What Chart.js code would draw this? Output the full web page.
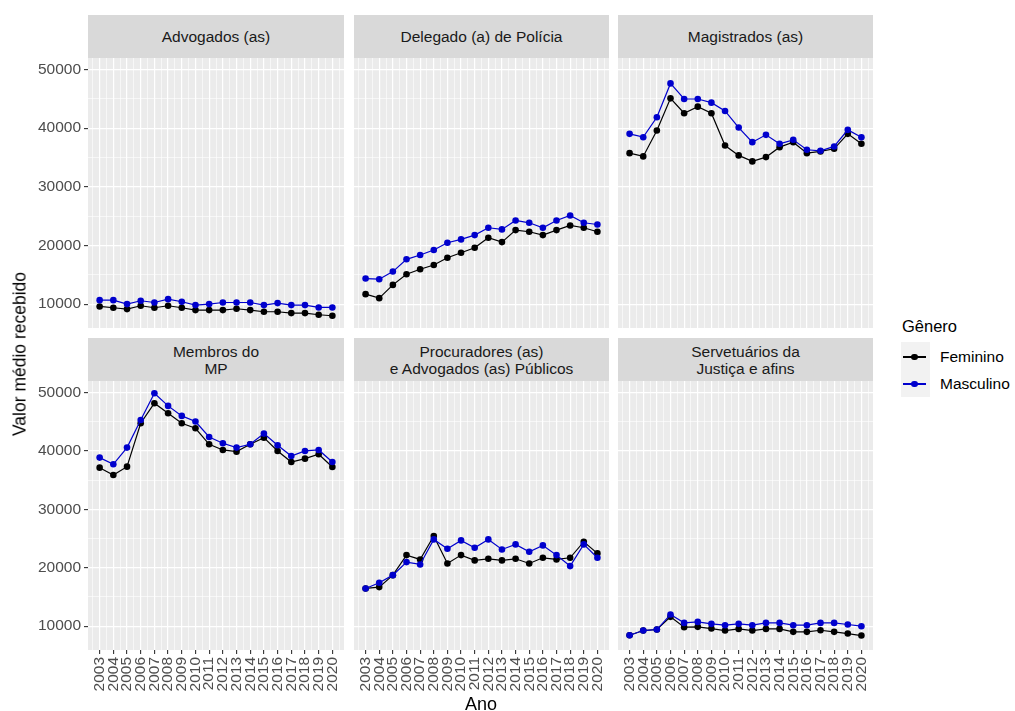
<!DOCTYPE html>
<html><head><meta charset="utf-8">
<script src="https://cdn.jsdelivr.net/npm/chart.js@4.4.1/dist/chart.umd.min.js"></script>
<style>
body{margin:0;background:#fff;width:1015px;height:711px;position:relative;overflow:hidden;font-family:'Liberation Sans',Arial,sans-serif;}
.strip{position:absolute;background:#D9D9D9;color:#1A1A1A;font-size:15.5px;display:flex;align-items:center;justify-content:center;text-align:center;line-height:17px;white-space:pre;}
canvas{position:absolute;}
.txt{position:absolute;white-space:nowrap;}
</style></head><body>
<script>
// ---- data ----
const years = [2003,2004,2005,2006,2007,2008,2009,2010,2011,2012,2013,2014,2015,2016,2017,2018,2019,2020];
const categories = ['Advogados (as)', 'Delegado (a) de Polícia', 'Magistrados (as)', 'Membros do\nMP', 'Procuradores (as)\ne Advogados (as) Públicos', 'Servetuários da\nJustiça e afins'];
const seriesNames = ['Feminino', 'Masculino'];
const advogadosF = [9600,9380,9150,9720,9380,9720,9380,8980,8980,8980,9210,8980,8700,8700,8470,8470,8190,8020];
const advogadosM = [10680,10680,10000,10570,10280,10850,10400,9830,10000,10280,10280,10280,9830,10170,9830,9830,9430,9430];
const delegadoF = [11700,11020,13280,15090,15940,16680,17920,18770,19620,21320,20580,22620,22340,21770,22620,23410,23020,22340];
const delegadoM = [14360,14250,15550,17640,18380,19230,20470,21040,21770,23020,22740,24260,23870,23020,24260,25110,23870,23580];
const magistradosF = [35750,35190,39600,45090,42550,43680,42550,37050,35360,34340,35070,36770,37620,35750,36040,36490,39040,37340];
const magistradosM = [39040,38470,41870,47640,44980,44980,44360,42940,40110,37620,38870,37340,38020,36320,36150,36890,39720,38470];
const membrosF = [37140,35880,37310,44740,48170,46460,44740,43880,41140,40170,39880,41140,42280,40000,38110,38680,39430,37260];
const membrosM = [38860,37710,40570,45310,49880,47710,46000,45030,42400,41310,40570,41140,42970,40970,39140,40000,40170,38110];
const procuradoresF = [16460,16690,18740,22170,21430,25430,20740,22170,21260,21540,21260,21540,20740,21710,21430,21710,24460,22460];
const procuradoresM = [16460,17430,18740,20970,20570,24860,23260,24690,23430,24860,23140,24000,22740,23830,22170,20290,24000,21710];
const servF = [8460,9260,9430,11600,9830,9890,9600,9260,9540,9260,9540,9540,9030,9030,9310,9030,8740,8400];
const servM = [8460,9260,9430,12000,10570,10740,10400,10170,10400,10170,10570,10570,10170,10170,10570,10570,10290,10000];
const yTickLabels = [10000,20000,30000,40000,50000];
const yMinorTicks = [15000,25000,35000,45000];
const axisTitleY = 'Valor médio recebido';
const axisTitleX = 'Ano';
const legendTitle = 'Gênero';

const femSeries = [advogadosF, delegadoF, magistradosF, membrosF, procuradoresF, servF];
const mascSeries = [advogadosM, delegadoM, magistradosM, membrosM, procuradoresM, servM];

// ---- layout / style ----
const FONT = "'Liberation Sans', Arial, sans-serif";
const BLUE = '#0000CD', BLACK = '#000000';
const cols = [{left:88,w:256},{left:354,w:255},{left:618,w:255}];
const rows = [{top:58,h:270,stripTop:15},{top:381,h:269,stripTop:338}];
const AXIS_W = 88, X_AXIS_H = 61;

const allVals = femSeries.concat(mascSeries).flat();
const vMin = Math.min(...allVals), vMax = Math.max(...allVals);
const yPad = (vMax - vMin) * 0.05;
const yLo = vMin - yPad, yHi = vMax + yPad;
const xPad = (years[years.length-1] - years[0]) * 0.05;
const xLo = years[0] - xPad, xHi = years[years.length-1] + xPad;
const xMinor = [years[0]-0.5].concat(years.map(y => y + 0.5));
const xAll = years.concat(xMinor).filter(v => v >= xLo && v <= xHi).sort((a,b)=>a-b);
const yAll = yTickLabels.concat(yMinorTicks).filter(v => v >= yLo && v <= yHi).sort((a,b)=>a-b);

const bgPlugin = {
  id:'panelBg',
  beforeDraw(chart){
    const a = chart.chartArea, ctx = chart.ctx;
    ctx.save(); ctx.fillStyle = '#EBEBEB';
    ctx.fillRect(a.left, a.top, a.right - a.left, a.bottom - a.top);
    ctx.restore();
  }
};

function isMajorY(ctx){ return ctx.tick && yTickLabels.includes(ctx.tick.value); }
function isMajorX(ctx){ return ctx.tick && years.includes(ctx.tick.value); }

function zeroPad(s){ s.paddingLeft = 0; s.paddingRight = 0; s.paddingTop = 0; s.paddingBottom = 0; }

categories.forEach((cat, idx) => {
  const r = Math.floor(idx / 3), c = idx % 3;
  const col = cols[c], row = rows[r];
  const showY = c === 0, showX = r === 1;

  // strip
  const st = document.createElement('div');
  st.className = 'strip';
  st.style.left = col.left + 'px'; st.style.width = col.w + 'px';
  st.style.top = row.stripTop + 'px'; st.style.height = (row.top - row.stripTop) + 'px';
  st.textContent = cat;
  document.body.appendChild(st);

  const cv = document.createElement('canvas');
  const left = showY ? col.left - AXIS_W : col.left;
  const w = col.w + (showY ? AXIS_W : 0);
  const h = row.h + (showX ? X_AXIS_H : 0);
  cv.width = w; cv.height = h;
  cv.style.left = left + 'px'; cv.style.top = row.top + 'px';
  cv.style.width = w + 'px'; cv.style.height = h + 'px';
  document.body.appendChild(cv);

  const mk = (arr) => years.map((y, i) => ({x: y, y: arr[i]}));
  new Chart(cv, {
    type: 'line',
    data: {
      datasets: [
        {label: seriesNames[1], data: mk(mascSeries[idx]), borderColor: BLUE, backgroundColor: BLUE,
         pointBackgroundColor: BLUE, pointBorderWidth: 0, pointRadius: 3.3, borderWidth: 1.2, tension: 0, order: 0},
        {label: seriesNames[0], data: mk(femSeries[idx]), borderColor: BLACK, backgroundColor: BLACK,
         pointBackgroundColor: BLACK, pointBorderWidth: 0, pointRadius: 3.3, borderWidth: 1.2, tension: 0, order: 1}
      ]
    },
    options: {
      responsive: false, animation: false, devicePixelRatio: 1, events: [],
      layout: {padding: 0, autoPadding: false},
      plugins: {legend: {display: false}, tooltip: {enabled: false}},
      scales: {
        x: {
          type: 'linear', min: xLo, max: xHi,
          afterBuildTicks: s => { s.ticks = xAll.map(v => ({value: v})); },
          afterFit: s => { s.height = showX ? X_AXIS_H : 0; zeroPad(s); },
          ticks: {display: showX, autoSkip: false, minRotation: 90, maxRotation: 90, padding: 3,
                  color: '#4D4D4D', font: {family: FONT, size: 15.5},
                  callback: v => years.includes(v) ? String(v) : ''},
          grid: {color: '#FFFFFF', lineWidth: ctx => isMajorX(ctx) ? 1.2 : 0.6,
                 drawTicks: showX, tickLength: 4, tickWidth: 1.1,
                 tickColor: ctx => isMajorX(ctx) ? '#333333' : 'rgba(0,0,0,0)'},
          border: {display: false}
        },
        y: {
          type: 'linear', min: yLo, max: yHi,
          afterBuildTicks: s => { s.ticks = yAll.map(v => ({value: v})); },
          afterFit: s => { s.width = showY ? AXIS_W : 0; zeroPad(s); },
          ticks: {display: showY, autoSkip: false, padding: 3,
                  color: '#4D4D4D', font: {family: FONT, size: 15.5},
                  callback: v => yTickLabels.includes(v) ? String(v) : ''},
          grid: {color: '#FFFFFF', lineWidth: ctx => isMajorY(ctx) ? 1.2 : 0.6,
                 drawTicks: showY, tickLength: 4, tickWidth: 1.1,
                 tickColor: ctx => isMajorY(ctx) ? '#333333' : 'rgba(0,0,0,0)'},
          border: {display: false}
        }
      }
    },
    plugins: [bgPlugin]
  });
});

// axis titles
const yt = document.createElement('div');
yt.className = 'txt'; yt.textContent = axisTitleY;
yt.style.cssText += 'left:20px;top:354px;font-size:17.5px;color:#000;transform:translate(-50%,-50%) rotate(-90deg);';
document.body.appendChild(yt);
const xt = document.createElement('div');
xt.className = 'txt'; xt.textContent = axisTitleX;
xt.style.cssText += 'left:481px;top:704px;font-size:18px;color:#000;transform:translate(-50%,-50%);';
document.body.appendChild(xt);

// legend
const lt = document.createElement('div');
lt.className = 'txt'; lt.textContent = legendTitle;
lt.style.cssText += 'left:902px;top:326px;font-size:16.5px;color:#000;transform:translateY(-50%);';
document.body.appendChild(lt);
const kb = document.createElement('div');
kb.style.cssText = 'position:absolute;left:901px;top:342px;width:29px;height:55px;background:#F2F2F2;';
document.body.appendChild(kb);
[{name: seriesNames[0], color: BLACK, y: 357}, {name: seriesNames[1], color: BLUE, y: 384}].forEach(k => {
  const ln = document.createElement('div');
  ln.style.cssText = `position:absolute;left:903px;top:${k.y-0.6}px;width:23px;height:1.2px;background:${k.color};`;
  document.body.appendChild(ln);
  const dt = document.createElement('div');
  dt.style.cssText = `position:absolute;left:${914.5-3.3}px;top:${k.y-3.3}px;width:6.6px;height:6.6px;border-radius:50%;background:${k.color};`;
  document.body.appendChild(dt);
  const tx = document.createElement('div');
  tx.className = 'txt'; tx.textContent = k.name;
  tx.style.cssText += `left:940px;top:${k.y}px;font-size:15.5px;color:#000;transform:translateY(-50%);`;
  document.body.appendChild(tx);
});
</script>
</body></html>
